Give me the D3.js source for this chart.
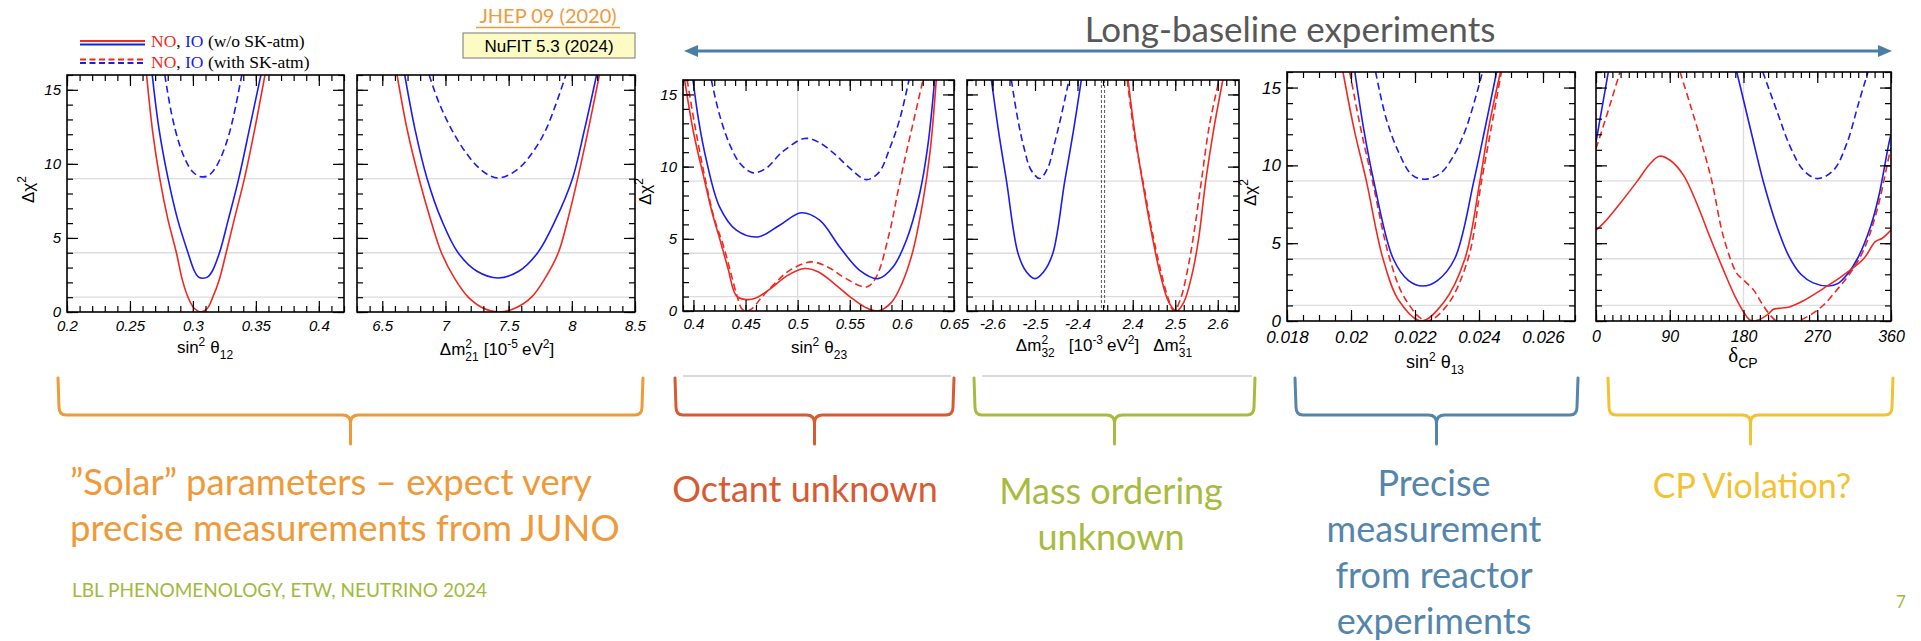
<!DOCTYPE html>
<html>
<head>
<meta charset="utf-8">
<script src="https://cdn.jsdelivr.net/npm/d3@7"></script>
<style>
  body { margin: 0; background: #fff; }
</style>
</head>
<body>
<div id="chart"></div>
<script>
// ---- data: [x, delta chi^2] ----
const s12_NO = [[0.2632,16],[0.268,12.2],[0.2737,9],[0.280,6.3],[0.2869,4],[0.2915,2.2],[0.2961,1],[0.301,0.25],[0.3066,0],[0.3115,0.25],[0.3158,1],[0.321,2.2],[0.3264,4],[0.333,6.3],[0.3409,9],[0.349,12.3],[0.3572,16]];
const s12_IO = [[0.2677,16],[0.273,12.4],[0.2803,9],[0.288,6.2],[0.2961,4],[0.301,2.8],[0.3045,2.35],[0.308,2.28],[0.3115,2.35],[0.315,2.7],[0.3211,4],[0.328,6.2],[0.3364,9],[0.345,12.4],[0.354,16]];
const s12_IO_sk = [[0.2777,16],[0.283,13.4],[0.289,11.4],[0.295,10.1],[0.3,9.45],[0.305,9.16],[0.311,9.16],[0.316,9.5],[0.322,10.4],[0.328,11.8],[0.333,13.5],[0.3388,16]];

const m21_NO = [[6.617,16],[6.70,12.2],[6.791,9],[6.88,6.3],[6.968,4],[7.07,2.3],[7.18,1],[7.30,0.25],[7.417,0],[7.55,0.25],[7.681,1],[7.79,2.3],[7.893,4],[7.97,6.3],[8.046,9],[8.13,12.3],[8.218,16]];
const m21_IO = [[6.678,16],[6.76,12.3],[6.855,9],[6.97,6.2],[7.10,4],[7.25,2.75],[7.417,2.3],[7.58,2.75],[7.73,4],[7.87,6.2],[8.005,9],[8.10,12.3],[8.196,16]];
const m21_IO_sk = [[6.871,16],[6.95,14.1],[7.05,12.3],[7.15,10.9],[7.25,9.85],[7.34,9.25],[7.417,9.05],[7.50,9.25],[7.60,9.85],[7.70,10.9],[7.80,12.4],[7.953,16]];

const s23_NO = [[0.3916,16],[0.40,12.4],[0.4108,9],[0.418,6.8],[0.4252,5],[0.433,3.0],[0.4412,1.05],[0.4508,0.79],[0.46,0.9],[0.475,1.6],[0.49,2.45],[0.5067,2.94],[0.52,2.7],[0.535,1.9],[0.55,1.0],[0.565,0.25],[0.577,0],[0.59,0.6],[0.60,1.9],[0.61,4.0],[0.62,7.5],[0.627,11],[0.633,16]];
const s23_NO_sk = [[0.394,16],[0.402,12.6],[0.412,8.9],[0.42,6.4],[0.4284,4.6],[0.436,2.6],[0.442,1.0],[0.4465,0.15],[0.451,0],[0.456,0.15],[0.465,0.9],[0.478,1.9],[0.492,2.8],[0.5131,3.4],[0.53,3.0],[0.545,2.3],[0.5659,1.66],[0.575,2.3],[0.588,5.4],[0.596,8.2],[0.604,10.9],[0.612,13.4],[0.6202,16]];
const s23_IO = [[0.3996,16],[0.405,13.2],[0.4124,10.45],[0.4252,7.2],[0.4412,5.6],[0.462,5.13],[0.4827,5.94],[0.5035,6.8],[0.5211,6.29],[0.5403,4.44],[0.5595,2.82],[0.5771,2.24],[0.5915,3.05],[0.6043,4.9],[0.6171,8.14],[0.625,11.5],[0.6314,16]];
const s23_IO_sk = [[0.4172,16],[0.425,13.6],[0.435,11.5],[0.445,10.2],[0.4572,9.57],[0.47,9.9],[0.485,11.0],[0.5067,11.95],[0.52,11.7],[0.535,10.9],[0.55,9.9],[0.5659,9.1],[0.578,9.6],[0.588,11.2],[0.598,13.3],[0.6068,16]];

const m32_IO = [[-2.6026,16],[-2.585,12.3],[-2.567,9],[-2.54,4],[-2.52,2.7],[-2.5,2.24],[-2.48,2.7],[-2.458,4],[-2.43,9],[-2.41,12.4],[-2.391,16]];
const m32_IO_sk = [[-2.5556,16],[-2.54,13.2],[-2.525,11.2],[-2.51,9.8],[-2.4889,9.18],[-2.47,9.9],[-2.455,11.5],[-2.44,13.3],[-2.42,16]];
const m31_NO = [[2.389,16],[2.405,12.3],[2.4227,9],[2.445,5.3],[2.465,2.5],[2.485,0.6],[2.503,0],[2.52,0.6],[2.54,2.6],[2.555,5.0],[2.5717,9],[2.59,12.5],[2.612,16]];
const m31_NO_sk = [[2.387,16],[2.405,12.0],[2.4265,8.6],[2.445,5.6],[2.465,2.9],[2.482,1.0],[2.497,0],[2.512,0.8],[2.53,3.0],[2.545,5.6],[2.5615,9],[2.58,12.8],[2.603,16]];

const s13_NO = [[0.01975,16],[0.0201,12.3],[0.02048,9],[0.0210,4],[0.0215,1.3],[0.0222,0],[0.0229,1.2],[0.02356,4],[0.02403,9],[0.0243,12.4],[0.02467,16]];
const s13_NO_sk = [[0.01996,16],[0.0203,12.4],[0.02067,9],[0.02121,4],[0.0217,1.4],[0.02236,0],[0.0230,1.0],[0.02366,4],[0.02408,9],[0.0244,12.6],[0.0247,16]];
const s13_IO = [[0.02012,16],[0.0204,12.3],[0.02071,9],[0.02132,4],[0.0218,2.6],[0.02225,2.25],[0.0227,2.6],[0.02324,4],[0.02384,9],[0.0242,12.5],[0.02455,16]];
const s13_IO_sk = [[0.02077,16],[0.0211,13.0],[0.0215,10.8],[0.0219,9.4],[0.02231,9.11],[0.0228,9.5],[0.0232,10.6],[0.0236,12.4],[0.02411,16]];

const cp_NO = [[0,5.84],[9,6.27],[29.3,7.55],[49.7,8.94],[66,10.1],[77.4,10.59],[90.4,10.33],[106.7,9.37],[123,7.55],[139,5.4],[155.6,3.27],[171.8,1.35],[184,0.28],[190,0],[198,0.06],[208.5,0.38],[216.6,0.75],[222.7,0.81],[237,0.92],[253,1.3],[277.7,2.1],[302,2.95],[326.6,4.0],[340.8,5.1],[349,5.3],[360,5.84]];
const cp_NO_sk_a = [[0,11.08],[10,12.7],[20,14.4],[29.3,16]];
const cp_NO_sk_b = [[102.6,16],[115,13.9],[128,11.6],[141.3,9],[155.6,5.4],[171.8,3.06],[180,2.63],[192.2,2.0],[202.4,1.13],[212.6,0.38],[220.7,0],[245,0],[261.4,0.38],[277.7,1.03],[294,2.0],[310,3.06],[326.6,4.56],[343,7.12],[358.3,10.76],[360,11.08]];
const cp_IO_a = [[0,11.5],[7,13.6],[15,16]];
const cp_IO_b = [[171.8,16],[180,14.2],[190,12.0],[204,9],[220,6.2],[235,4.2],[250,3.0],[265,2.45],[283.8,2.25],[295,2.4],[306,2.95],[320,4.1],[335,6.05],[345,8.0],[357,11.3],[360,12.0]];
const cp_IO_sk = [[203.6,16],[220.7,13.5],[237,11.2],[253,9.7],[270.4,9.15],[290,9.7],[306,11.4],[320.5,14],[331.9,16]];

// tick labels
const ticks12 = [0.2, 0.25, 0.3, 0.35, 0.4];
const ticks21 = [6.5, 7, 7.5, 8, 8.5];
const ticks23 = [0.4, 0.45, 0.5, 0.55, 0.6, 0.65];
const ticks32 = [-2.6, -2.5, -2.4];
const ticks31 = [2.4, 2.5, 2.6];
const ticks13 = [0.018, 0.02, 0.022, 0.024, 0.026];
const ticksCP = [0, 90, 180, 270, 360];
const ticksChi = [0, 5, 10, 15];
const gridChi = [1, 4, 9];

const RED = "#ee2a22", BLUE = "#1c1cf0";
const W = 1921, H = 641;

const svg = d3.select("#chart").append("svg")
    .attr("width", W)
    .attr("height", H)
    .style("font-family", "Liberation Sans, Arial, sans-serif");

// panel layout
const panels = [
  {top: 75, bottom: 312, fs: 15, pad: 8, yLab: 28, parts: [
    {left: 67, right: 344, domain: [0.2, 0.42], major: ticks12, minor: 0.01,
     curves: [[s12_IO_sk, BLUE, true], [s12_IO, BLUE, false], [s12_NO, RED, false]]}]},
  {top: 75, bottom: 312, fs: 15, pad: 8, parts: [
    {left: 357, right: 635, domain: [6.3, 8.5], major: ticks21, minor: 0.1,
     curves: [[m21_IO_sk, BLUE, true], [m21_IO, BLUE, false], [m21_NO, RED, false]]}]},
  {top: 80, bottom: 311, fs: 15, pad: 7, yLab: 645, vgrid: [0.5], parts: [
    {left: 683, right: 954, domain: [0.39, 0.65], major: ticks23, minor: 0.01,
     curves: [[s23_IO_sk, BLUE, true], [s23_NO_sk, RED, true], [s23_IO, BLUE, false], [s23_NO, RED, false]]}]},
  {top: 80, bottom: 311, fs: 15, pad: 7, split: 1103, parts: [
    {left: 967, right: 1103, domain: [-2.66, -2.34], major: ticks32, minor: 0.02,
     curves: [[m32_IO_sk, BLUE, true], [m32_IO, BLUE, false]]},
    {left: 1103, right: 1239, domain: [2.33, 2.65], major: ticks31, minor: 0.02,
     curves: [[m31_NO_sk, RED, true], [m31_NO, RED, false]]}]},
  {top: 72, bottom: 321, fs: 17, pad: 10, yLab: 1250, parts: [
    {left: 1287, right: 1575, domain: [0.018, 0.027], major: ticks13, minor: 0.0005,
     curves: [[s13_IO_sk, BLUE, true], [s13_NO_sk, RED, true], [s13_IO, BLUE, false], [s13_NO, RED, false]]}]},
  {top: 72, bottom: 321, fs: 16, pad: 10, vgrid: [180], parts: [
    {left: 1596, right: 1891, domain: [0, 360], major: ticksCP, minor: 10,
     curves: [[cp_IO_sk, BLUE, true], [cp_NO_sk_a, RED, true], [cp_NO_sk_b, RED, true],
              [cp_IO_a, BLUE, false], [cp_IO_b, BLUE, false], [cp_NO, RED, false]]}]}
];

function steps(d, s) {
  const out = [];
  const a = Math.min(d[0], d[1]), b = Math.max(d[0], d[1]);
  for (let i = Math.ceil(a / s - 1e-6); i <= Math.floor(b / s + 1e-6); i++) out.push(+(i * s).toFixed(6));
  return out;
}
const fmt = v => String(+v.toFixed(4));

function styleAxis(g, fs) {
  g.select(".domain").remove();
  g.selectAll(".tick line").attr("stroke", "#000").attr("stroke-width", 1.2);
  g.selectAll("text")
    .attr("font-family", "Liberation Sans, Arial, sans-serif")
    .attr("font-style", "italic")
    .attr("font-size", fs)
    .attr("fill", "#000");
}

panels.forEach((p, pi) => {
  const left = p.parts[0].left, right = p.parts[p.parts.length - 1].right;
  const y = d3.scaleLinear().domain([0, 16]).range([p.bottom, p.top]);
  const g = svg.append("g");

  // horizontal grid
  g.selectAll(".hg").data(gridChi).enter().append("line")
    .attr("x1", left).attr("x2", right)
    .attr("y1", d => y(d)).attr("y2", d => y(d))
    .attr("stroke", "#dcdcdc").attr("stroke-width", 1.3);

  p.parts.forEach((part, k) => {
    const x = d3.scaleLinear().domain(part.domain).range([part.left, part.right]);
    (p.vgrid || []).forEach(v => {
      g.append("line").attr("x1", x(v)).attr("x2", x(v)).attr("y1", p.top).attr("y2", p.bottom)
        .attr("stroke", "#dcdcdc").attr("stroke-width", 1.3);
    });

    const clipId = "clip" + pi + "_" + k;
    svg.append("clipPath").attr("id", clipId).append("rect")
      .attr("x", part.left).attr("y", p.top).attr("width", part.right - part.left).attr("height", p.bottom - p.top);

    const line = d3.line().x(d => x(d[0])).y(d => y(d[1])).curve(d3.curveCatmullRom.alpha(0.5));
    const cg = g.append("g").attr("clip-path", `url(#${clipId})`);
    part.curves.forEach(([data, col, dashed]) => {
      cg.append("path").datum(data)
        .attr("d", line)
        .attr("fill", "none")
        .attr("stroke", col)
        .attr("stroke-width", 1.6)
        .attr("stroke-dasharray", dashed ? "7,4" : null);
    });

    const minor = steps(part.domain, part.minor);
    // bottom ticks
    g.append("g").attr("transform", `translate(0,${p.bottom})`)
      .call(d3.axisBottom(x).tickValues(minor).tickSize(-6).tickFormat(""))
      .call(a => styleAxis(a, p.fs));
    g.append("g").attr("transform", `translate(0,${p.bottom})`)
      .call(d3.axisBottom(x).tickValues(part.major).tickSize(-11).tickPadding(p.pad).tickFormat(fmt))
      .call(a => styleAxis(a, p.fs));
    // top ticks
    g.append("g").attr("transform", `translate(0,${p.top})`)
      .call(d3.axisTop(x).tickValues(minor).tickSize(-6).tickFormat(""))
      .call(a => styleAxis(a, p.fs));
    g.append("g").attr("transform", `translate(0,${p.top})`)
      .call(d3.axisTop(x).tickValues(part.major).tickSize(-11).tickFormat(""))
      .call(a => styleAxis(a, p.fs));
  });

  // y ticks, left and right
  const yMinor = d3.range(0, 17);
  g.append("g").attr("transform", `translate(${left},0)`)
    .call(d3.axisLeft(y).tickValues(yMinor).tickSize(-6).tickFormat(""))
    .call(a => styleAxis(a, p.fs));
  g.append("g").attr("transform", `translate(${left},0)`)
    .call(d3.axisLeft(y).tickValues(ticksChi).tickSize(-11).tickPadding(6)
      .tickFormat(p.yLab !== undefined ? fmt : ""))
    .call(a => styleAxis(a, p.fs));
  g.append("g").attr("transform", `translate(${right},0)`)
    .call(d3.axisRight(y).tickValues(yMinor).tickSize(-6).tickFormat(""))
    .call(a => styleAxis(a, p.fs));
  g.append("g").attr("transform", `translate(${right},0)`)
    .call(d3.axisRight(y).tickValues(ticksChi).tickSize(-11).tickFormat(""))
    .call(a => styleAxis(a, p.fs));

  if (p.split !== undefined) {
    [-1.6, 1.6].forEach(o => {
      g.append("line").attr("x1", p.split + o).attr("x2", p.split + o)
        .attr("y1", p.top).attr("y2", p.bottom)
        .attr("stroke", "#555").attr("stroke-width", 1).attr("stroke-dasharray", "3,2");
    });
  }

  g.append("rect")
    .attr("x", left).attr("y", p.top)
    .attr("width", right - left).attr("height", p.bottom - p.top)
    .attr("fill", "none").attr("stroke", "#000").attr("stroke-width", 1.6);

  if (p.yLab !== undefined) {
    const t = svg.append("text")
      .attr("transform", `translate(${p.yLab + 6},${(p.top + p.bottom) / 2 - 4}) rotate(-90)`)
      .attr("text-anchor", "middle").attr("font-size", 17);
    t.append("tspan").text("Δχ");
    t.append("tspan").attr("dy", -8).attr("font-size", 12).text("2");
  }
});

// ---- axis titles ----
function title(x, yb, fs, build) {
  const t = svg.append("text").attr("x", x).attr("y", yb)
    .attr("text-anchor", "middle").attr("font-size", fs).attr("fill", "#000");
  build(t);
}
const sup = (t, s, dy) => t.append("tspan").attr("dy", -dy).attr("font-size", 12).text(s);
const sub = (t, s, dy) => t.append("tspan").attr("dy", dy).attr("font-size", 12).text(s);
const norm = (t, s, dy, dx) => t.append("tspan").attr("dy", dy).attr("dx", dx || 0).text(s);
const stackSub = (t, s) => t.append("tspan").attr("dx", -6.7).attr("dy", 13).attr("font-size", 12).text(s);

title(205, 353, 17, t => { norm(t, "sin", 0); sup(t, "2", 7); norm(t, "θ", 7, 5); sub(t, "12", 6); });
title(497, 355, 17, t => {
  norm(t, "Δm", 0); sup(t, "2", 7); stackSub(t, "21");
  norm(t, "[10", -6, 5); sup(t, "-5", 7); norm(t, "eV", 7, 4); sup(t, "2", 7); norm(t, "]", 7);
});
title(819, 353, 17, t => { norm(t, "sin", 0); sup(t, "2", 7); norm(t, "θ", 7, 5); sub(t, "23", 6); });
title(1104, 351, 17, t => {
  norm(t, "Δm", 0); sup(t, "2", 7); stackSub(t, "32");
  norm(t, "[10", -6, 14); sup(t, "-3", 7); norm(t, "eV", 7, 4); sup(t, "2", 7); norm(t, "]", 7);
  norm(t, "Δm", 0, 14); sup(t, "2", 7); stackSub(t, "31");
});
title(1435, 368, 18, t => { norm(t, "sin", 0); sup(t, "2", 7); norm(t, "θ", 7, 5); sub(t, "13", 6); });
title(1743, 362, 21, t => {
  t.attr("font-family", "Liberation Serif, Times New Roman, serif");
  norm(t, "δ", 0);
  t.append("tspan").attr("dy", 6).attr("font-size", 14)
    .attr("font-family", "Liberation Sans, Arial, sans-serif").text("CP");
});

// ---- legend ----
const legend = [
  {y1: 41, y2: 44.5, dash: null, label: " (w/o SK-atm)", base: 47},
  {y1: 59.5, y2: 63, dash: "6,3.5", label: " (with SK-atm)", base: 67.5}
];
legend.forEach(l => {
  [[l.y1, RED], [l.y2, BLUE]].forEach(([yy, c]) => {
    svg.append("line").attr("x1", 80).attr("x2", 145).attr("y1", yy).attr("y2", yy)
      .attr("stroke", c).attr("stroke-width", 2).attr("stroke-dasharray", l.dash);
  });
  const t = svg.append("text").attr("x", 151).attr("y", l.base)
    .attr("font-family", "Liberation Serif, Times New Roman, serif").attr("font-size", 17.5);
  t.append("tspan").attr("fill", RED).text("NO");
  t.append("tspan").attr("fill", "#000").text(", ");
  t.append("tspan").attr("fill", BLUE).text("IO");
  t.append("tspan").attr("fill", "#000").text(l.label);
});

// ---- header notes ----
svg.append("text").attr("x", 548).attr("y", 23).attr("text-anchor", "middle")
  .attr("font-family", "Lato, sans-serif").attr("font-size", 20).attr("fill", "#ee9b3b")
  .text("JHEP 09 (2020)");
svg.append("line").attr("x1", 476).attr("x2", 620).attr("y1", 27.5).attr("y2", 27.5)
  .attr("stroke", "#ee9b3b").attr("stroke-width", 1.5);
svg.append("rect").attr("x", 463).attr("y", 33).attr("width", 172).attr("height", 25)
  .attr("fill", "#fdfbc4").attr("stroke", "#777").attr("stroke-width", 1);
svg.append("text").attr("x", 549).attr("y", 52).attr("text-anchor", "middle")
  .attr("font-size", 17).attr("fill", "#000").text("NuFIT 5.3 (2024)");

svg.append("text").attr("x", 1290).attr("y", 42).attr("text-anchor", "middle")
  .attr("font-family", "Lato, sans-serif").attr("font-size", 35).attr("fill", "#585858")
  .text("Long-baseline experiments");

const AR = "#4a7ea8";
svg.append("line").attr("x1", 695).attr("x2", 1880).attr("y1", 51).attr("y2", 51)
  .attr("stroke", AR).attr("stroke-width", 3);
svg.append("path").attr("d", "M684,51 L698,45 L698,57 Z").attr("fill", AR);
svg.append("path").attr("d", "M1892,51 L1878,45 L1878,57 Z").attr("fill", AR);

// ---- braces and notes ----
const braces = [
  {x0: 58, x1: 643, color: "#ef9a38", lines: ["”Solar” parameters – expect very", "precise measurements from JUNO"], tx: 70, anchor: "start", base: 495, fs: 36.5},
  {x0: 675, x1: 954, color: "#d85a30", lines: ["Octant unknown"], tx: 805, anchor: "middle", base: 502, fs: 36, gray: true},
  {x0: 974, x1: 1255, color: "#a8bb3e", lines: ["Mass ordering", "unknown"], tx: 1111, anchor: "middle", base: 504, fs: 36, gray: true},
  {x0: 1295, x1: 1578, color: "#5485ad", lines: ["Precise", "measurement", "from reactor", "experiments"], tx: 1434, anchor: "middle", base: 496, fs: 36},
  {x0: 1608, x1: 1893, color: "#f2c232", lines: ["CP Violation?"], tx: 1752, anchor: "middle", base: 498, fs: 34}
];
const yTop = 378, yH = 415, yTip = 444, r = 8;
braces.forEach(b => {
  const xm = (b.x0 + b.x1) / 2;
  if (b.gray) {
    svg.append("line").attr("x1", b.x0 + 8).attr("x2", b.x1 - 3).attr("y1", 376).attr("y2", 376)
      .attr("stroke", "#cccccc").attr("stroke-width", 1.5);
  }
  const d = `M${b.x0},${yTop} L${b.x0 + 1},${yH - r} Q${b.x0 + 1},${yH} ${b.x0 + r},${yH} ` +
            `L${xm - r},${yH} Q${xm},${yH} ${xm},${yH + r} L${xm},${yTip} ` +
            `M${xm},${yH + r} Q${xm},${yH} ${xm + r},${yH} L${b.x1 - r},${yH} ` +
            `Q${b.x1 - 1},${yH} ${b.x1 - 1},${yH - r} L${b.x1},${yTop}`;
  svg.append("path").attr("d", d).attr("fill", "none").attr("stroke", b.color)
    .attr("stroke-width", 3).attr("stroke-linecap", "round");
  b.lines.forEach((s, i) => {
    svg.append("text").attr("x", b.tx).attr("y", b.base + i * 46)
      .attr("text-anchor", b.anchor)
      .attr("font-family", "Lato, sans-serif").attr("font-size", b.fs)
      .attr("fill", b.color).text(s);
  });
});

svg.append("text").attr("x", 72).attr("y", 597)
  .attr("font-family", "Lato, sans-serif").attr("font-size", 19).attr("fill", "#9fba3c")
  .text("LBL PHENOMENOLOGY, ETW, NEUTRINO 2024");
svg.append("text").attr("x", 1896).attr("y", 608)
  .attr("font-family", "Lato, sans-serif").attr("font-size", 17).attr("fill", "#9fba3c")
  .text("7");
</script>
</body>
</html>
